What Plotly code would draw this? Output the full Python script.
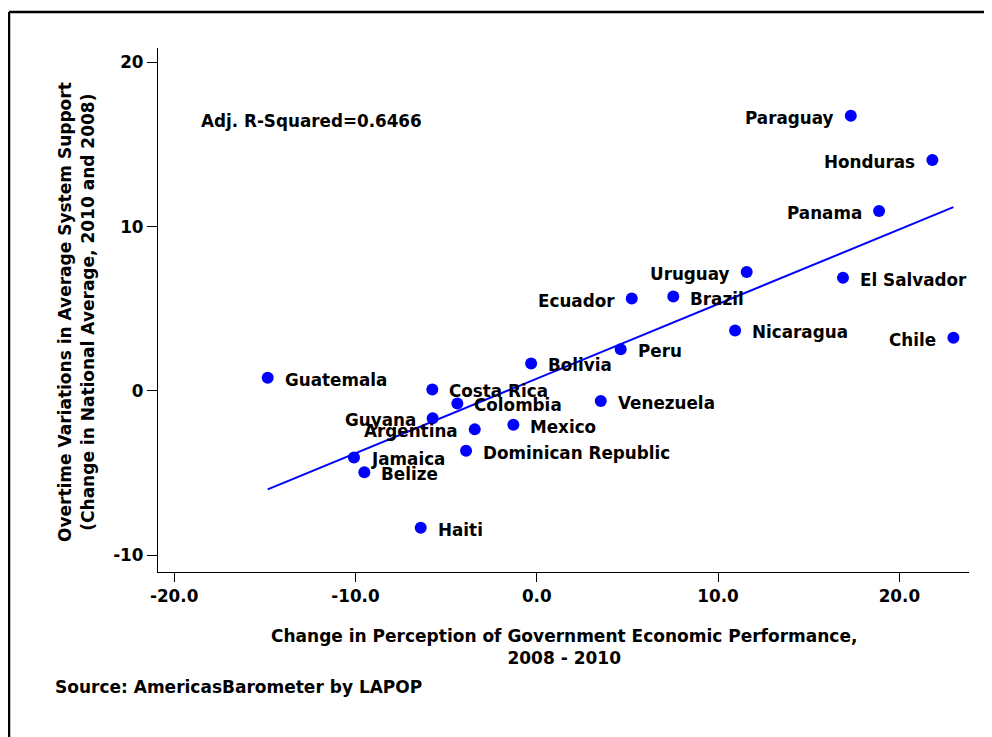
import numpy as np
import plotly.graph_objects as go

countries = ["Paraguay", "Honduras", "Panama", "Uruguay", "El Salvador", "Ecuador",
             "Brazil", "Nicaragua", "Chile", "Peru", "Bolivia", "Guatemala",
             "Costa Rica", "Colombia", "Venezuela", "Guyana", "Argentina", "Mexico",
             "Dominican Republic", "Jamaica", "Belize", "Haiti"]
econ_change = [17.32, 21.82, 18.88, 11.58, 16.89, 5.24,
               7.53, 10.94, 22.98, 4.63, -0.31, -14.84,
               -5.76, -4.38, 3.53, -5.74, -3.42, -1.29,
               -3.90, -10.08, -9.51, -6.40]
support_change = [16.74, 14.06, 10.95, 7.24, 6.89, 5.62,
                  5.74, 3.68, 3.24, 2.53, 1.67, 0.80,
                  0.09, -0.76, -0.62, -1.66, -2.34, -2.06,
                  -3.64, -4.05, -4.95, -8.33]
x_tickvals = [-20, -10, 0, 10, 20]
x_ticktext = ["-20.0", "-10.0", "0.0", "10.0", "20.0"]
y_tickvals = [-10, 0, 10, 20]
y_ticktext = ["-10", "0", "10", "20"]
r2_text = "Adj. R-Squared=0.6466"

# labels placed on the left of their marker
left_labelled = {"Paraguay", "Honduras", "Panama", "Uruguay", "Ecuador", "Chile",
                 "Guyana", "Argentina"}

FONT = dict(family="DejaVu Sans", size=16.8, color="black", weight="bold")
TITLE_FONT = dict(family="DejaVu Sans", size=17, color="black", weight="bold")
BLUE = "#0000FF"

x = np.array(econ_change)
y = np.array(support_change)
slope, intercept = np.polyfit(x, y, 1)
fx = np.array([x.min(), x.max()])
fy = intercept + slope * fx

fig = go.Figure()
fig.add_trace(go.Scatter(x=fx, y=fy, mode="lines",
                         line=dict(color=BLUE, width=2), hoverinfo="skip"))
fig.add_trace(go.Scatter(x=econ_change, y=support_change, mode="markers",
                         marker=dict(color=BLUE, size=12, line=dict(width=0)),
                         text=countries, hoverinfo="text"))

annotations = []
for name, xv, yv in zip(countries, econ_change, support_change):
    left = name in left_labelled
    annotations.append(dict(x=xv, y=yv, xref="x", yref="y", text=name,
                            showarrow=False, font=FONT,
                            xanchor="right" if left else "left", yanchor="middle",
                            xshift=-15 if left else 15, yshift=-2))

annotations.append(dict(x=-18.63, y=16.41, xref="x", yref="y", text=r2_text,
                        showarrow=False, font=FONT, xanchor="left", yanchor="middle"))
annotations.append(dict(x=0.5, y=-0.1426, xref="paper", yref="paper",
                        text="Change in Perception of Government Economic Performance,<br>2008 - 2010",
                        showarrow=False, font=TITLE_FONT, xanchor="center", yanchor="middle",
                        align="center"))
annotations.append(dict(x=-0.1002, y=0.4956, xref="paper", yref="paper",
                        text="Overtime Variations in Average System Support<br>(Change in National Average, 2010 and 2008)",
                        showarrow=False, font=TITLE_FONT, textangle=-90,
                        xanchor="center", yanchor="middle", align="center"))
annotations.append(dict(x=-0.1295, y=-0.219, xref="paper", yref="paper",
                        text="Source: AmericasBarometer by LAPOP",
                        showarrow=False, font=TITLE_FONT, xanchor="left", yanchor="middle"))

fig.update_layout(
    width=984, height=729,
    margin=dict(l=150, r=23, t=40, b=165),
    paper_bgcolor="white", plot_bgcolor="white",
    showlegend=False,
    annotations=annotations,
    shapes=[
        dict(type="line", xref="paper", yref="paper",
             x0=(9 - 158) / 811, x1=(1000 - 158) / 811,
             y0=(572 - 12) / 524, y1=(572 - 12) / 524,
             line=dict(color="black", width=2.5)),
        dict(type="line", xref="paper", yref="paper",
             x0=(9 - 158) / 811, x1=(9 - 158) / 811,
             y0=(572 - 12) / 524, y1=(572 - 745) / 524,
             line=dict(color="black", width=2.5)),
    ],
)
fig.update_xaxes(range=[-20.89, 23.84], tickvals=x_tickvals, ticktext=x_ticktext,
                 showgrid=False, zeroline=False, showline=True, linecolor="black",
                 linewidth=1.3, ticks="outside", ticklen=9, tickwidth=1.2,
                 tickcolor="black", tickfont=FONT)
fig.update_yaxes(range=[-11.02, 20.87], tickvals=y_tickvals, ticktext=y_ticktext,
                 showgrid=False, zeroline=False, showline=True, linecolor="black",
                 linewidth=1.3, ticks="outside", ticklen=10, tickwidth=1.2,
                 tickcolor="black", tickfont=FONT)

fig.write_html("out.html")
